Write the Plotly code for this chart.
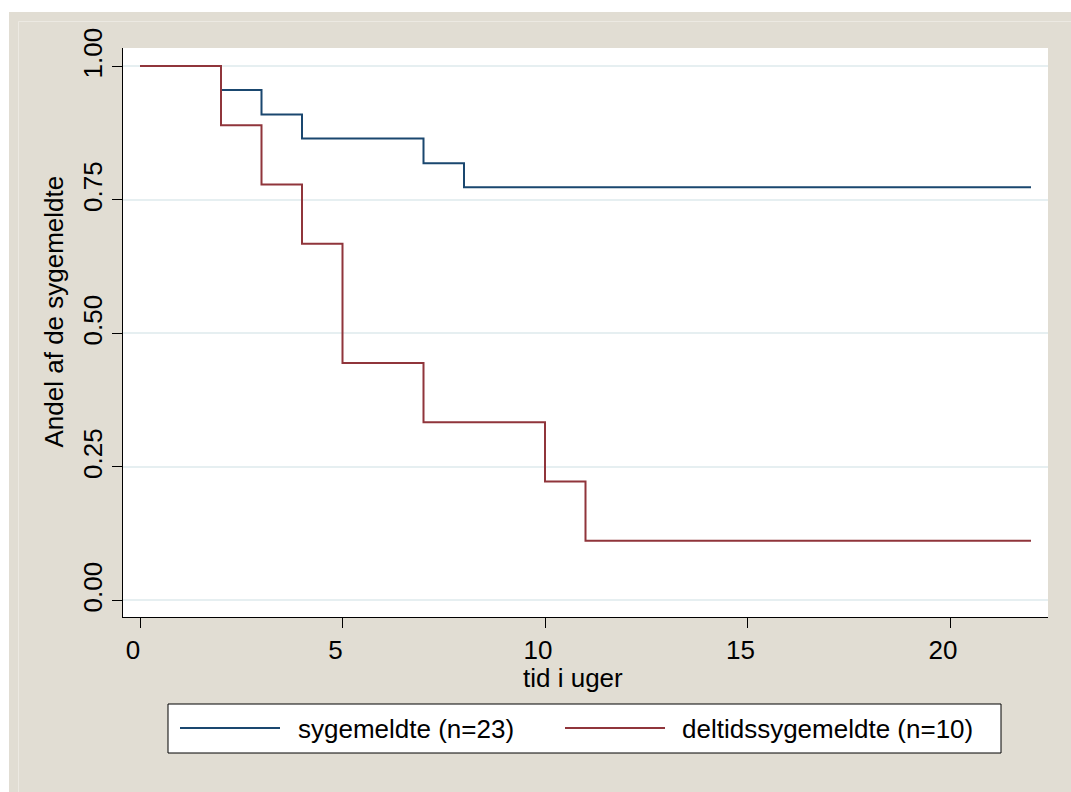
import plotly.graph_objects as go

# ---- data ----
blue_name = "sygemeldte (n=23)"
blue_t = [0, 2, 3, 4, 7, 8, 22]
blue_s = [1.0, 0.955, 0.909, 0.864, 0.818, 0.773, 0.773]

red_name = "deltidssygemeldte (n=10)"
red_t = [0, 2, 3, 4, 5, 7, 10, 11, 22]
red_s = [1.0, 0.889, 0.778, 0.667, 0.444, 0.333, 0.222, 0.111, 0.111]

x_ticks = [0, 5, 10, 15, 20]
y_ticks = [0, 0.25, 0.5, 0.75, 1.0]
y_ticklabels = ["0.00", "0.25", "0.50", "0.75", "1.00"]

x_title = "tid i uger"
y_title = "Andel af de sygemeldte"

BLUE = "#1a476f"
RED = "#90353b"
BEIGE = "#e1ddd3"
GRID = "#e6eff1"
FONT = "Liberation Sans, Arial, sans-serif"
FS = 26

W, H = 1071, 792
L, R, T, B = 123, 1048, 48, 617
pw, ph = R - L, B - T

def px(x):
    return (x - L) / pw

def py(y):
    return (B - y) / ph

fig = go.Figure()
fig.add_trace(go.Scatter(x=blue_t, y=blue_s, mode="lines", line=dict(color=BLUE, width=2, shape="hv"),
                         name=blue_name, showlegend=False))
fig.add_trace(go.Scatter(x=red_t, y=red_s, mode="lines", line=dict(color=RED, width=2, shape="hv"),
                         name=red_name, showlegend=False))

shapes = [
    dict(type="rect", xref="paper", yref="paper", x0=px(-5), x1=px(W + 5), y0=py(12), y1=py(-5),
         fillcolor="white", line=dict(width=0), layer="below"),
    dict(type="rect", xref="paper", yref="paper", x0=px(-5), x1=px(9), y0=py(W), y1=py(-5),
         fillcolor="white", line=dict(width=0), layer="below"),
    dict(type="rect", xref="paper", yref="paper", x0=px(18.5), x1=px(W + 10), y0=py(H + 10), y1=py(21.5),
         fillcolor="rgba(0,0,0,0)", line=dict(width=1, color="#ece9e2"), layer="below"),
    dict(type="rect", xref="paper", yref="paper", x0=px(168), x1=px(1001), y0=py(753), y1=py(704),
         fillcolor="white", line=dict(width=1, color="black")),
    dict(type="line", xref="paper", yref="paper", x0=px(180), x1=px(280), y0=py(728), y1=py(728),
         line=dict(width=2, color=BLUE)),
    dict(type="line", xref="paper", yref="paper", x0=px(565), x1=px(665), y0=py(728), y1=py(728),
         line=dict(width=2, color=RED)),
]

annotations = [
    dict(x=px(296), y=py(729), xref="paper", yref="paper", text=blue_name, showarrow=False,
         xanchor="left", yanchor="middle", font=dict(family=FONT, size=FS, color="black")),
    dict(x=px(680), y=py(729), xref="paper", yref="paper", text=red_name, showarrow=False,
         xanchor="left", yanchor="middle", font=dict(family=FONT, size=FS, color="black")),
    # axis titles
    dict(x=px(573), y=py(678), xref="paper", yref="paper", text=x_title, showarrow=False,
         xanchor="center", yanchor="middle", font=dict(family=FONT, size=FS, color="black")),
    dict(x=px(53), y=py(311.5), xref="paper", yref="paper", text=y_title, showarrow=False,
         textangle=-90, xanchor="center", yanchor="middle",
         font=dict(family=FONT, size=FS, color="black")),
]

fig.update_layout(
    width=W, height=H,
    margin=dict(l=L, r=W - R, t=T, b=H - B, pad=0),
    paper_bgcolor=BEIGE, plot_bgcolor="white",
    font=dict(family=FONT, size=FS, color="black"),
    shapes=shapes, annotations=annotations, showlegend=False,
)
fig.update_xaxes(
    range=[(L - 140) / 40.5, (R - 140) / 40.5],
    tickvals=x_ticks, ticks="outside", ticklen=10, tickwidth=1, tickcolor="black",
    ticklabelshift=-7,
    showline=True, linecolor="black", linewidth=1, showgrid=False, zeroline=False,
)
fig.update_yaxes(
    range=[-17 / 534, 1 + 18 / 534],
    tickvals=y_ticks, ticktext=y_ticklabels, tickangle=-90,
    ticks="outside", ticklen=10, tickwidth=1, tickcolor="black",
    ticklabelshift=-9,
    showline=True, linecolor="black", linewidth=1,
    showgrid=True, gridcolor=GRID, gridwidth=2, zeroline=False,
)

fig.write_html("out.html")
